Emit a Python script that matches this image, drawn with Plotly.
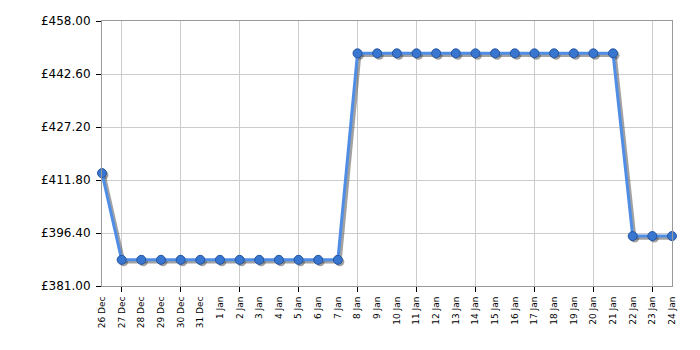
import plotly.graph_objects as go

dates = ["26 Dec", "27 Dec", "28 Dec", "29 Dec", "30 Dec", "31 Dec",
         "1 Jan", "2 Jan", "3 Jan", "4 Jan", "5 Jan", "6 Jan", "7 Jan",
         "8 Jan", "9 Jan", "10 Jan", "11 Jan", "12 Jan", "13 Jan", "14 Jan",
         "15 Jan", "16 Jan", "17 Jan", "18 Jan", "19 Jan", "20 Jan", "21 Jan",
         "22 Jan", "23 Jan", "24 Jan"]
prices = [413.8,
          388.6, 388.6, 388.6, 388.6, 388.6, 388.6, 388.6, 388.6, 388.6, 388.6, 388.6, 388.6,
          448.6, 448.6, 448.6, 448.6, 448.6, 448.6, 448.6, 448.6, 448.6, 448.6, 448.6, 448.6, 448.6, 448.6,
          395.5, 395.5, 395.5]
y_ticks = [381.0, 396.4, 411.8, 427.2, 442.6, 458.0]

idx = list(range(len(dates)))
grid_idx = idx[1::3]

L, R, T, B = 102, 28, 21, 64
W, H = 700, 350
pw = W - L - R
ph = H - T - B
off = 2.0  # shadow offset in px

xr = [0, len(dates) - 1]
yr = [y_ticks[0], y_ticks[-1]]
sx = pw / (xr[1] - xr[0])
sy = ph / (yr[1] - yr[0])

fig = go.Figure()

# shadow on base axes whose ranges are shifted by a couple of pixels
fig.add_trace(go.Scatter(
    x=idx, y=prices, xaxis="x", yaxis="y", mode="lines+markers",
    line=dict(color="rgba(70,70,70,0.5)", width=3.5),
    marker=dict(size=9, color="rgba(70,70,70,0.5)"),
    cliponaxis=False, hoverinfo="skip", showlegend=False))

# invisible carrier for the label axis
fig.add_trace(go.Scatter(
    x=idx, y=prices, xaxis="x2", yaxis="y2", mode="lines",
    line=dict(color="rgba(0,0,0,0)", width=0),
    hoverinfo="skip", showlegend=False))

# main series on the grid axis
fig.add_trace(go.Scatter(
    x=idx, y=prices, xaxis="x3", yaxis="y2", mode="lines+markers",
    line=dict(color="rgb(80,142,230)", width=3),
    marker=dict(size=9, color="rgb(56,118,208)", line=dict(color="rgb(36,84,160)", width=1)),
    cliponaxis=False, showlegend=False))

fig.update_layout(
    width=W, height=H,
    margin=dict(l=L, r=R, t=T, b=B),
    paper_bgcolor="white", plot_bgcolor="white",
    font=dict(family="DejaVu Sans, Verdana, sans-serif", color="black"),
    xaxis=dict(range=[xr[0] - off / sx, xr[1] - off / sx], visible=False, domain=[0, 1]),
    yaxis=dict(range=[yr[0] + off / sy, yr[1] + off / sy], visible=False, domain=[0, 1]),
    xaxis2=dict(range=xr, overlaying="x", anchor="y2", side="bottom",
                tickmode="array", tickvals=idx, ticktext=dates,
                tickangle=-90, tickfont=dict(size=9), ticks="", ticklabelstandoff=6,
                showgrid=False,
                zeroline=False, showline=True, linecolor="#999999", mirror=True),
    xaxis3=dict(range=xr, overlaying="x", anchor="y2", side="bottom",
                tickmode="array", tickvals=grid_idx, showticklabels=False,
                ticks="outside", ticklen=5, tickcolor="black",
                showgrid=True, gridcolor="#cccccc", gridwidth=1, zeroline=False,
                showline=False),
    yaxis2=dict(range=yr, overlaying="y", anchor="x2", side="left",
                tickmode="array", tickvals=y_ticks,
                ticktext=["£%.2f" % v for v in y_ticks], tickfont=dict(size=12),
                ticks="outside", ticklen=5, tickcolor="black", ticklabelstandoff=3,
                showgrid=True, gridcolor="#cccccc", zeroline=False,
                showline=True, linecolor="#999999", mirror=True),
)

fig.write_html("out.html")
